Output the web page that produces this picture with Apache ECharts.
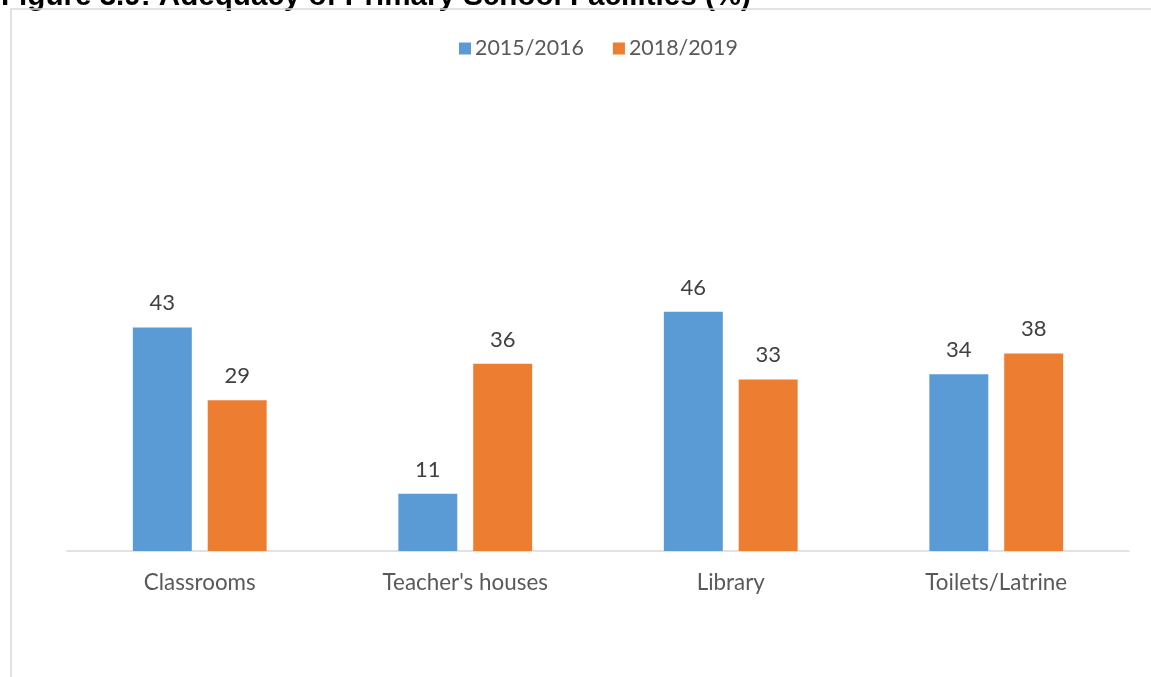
<!DOCTYPE html>
<html>
<head>
<meta charset="utf-8">
<script src="https://cdn.jsdelivr.net/npm/echarts@6/dist/echarts.min.js"></script>
<style>
  html, body { margin: 0; padding: 0; background: #ffffff; }
  #chart { width: 1151px; height: 677px; }
</style>
</head>
<body>
<div id="chart"></div>
<script>
// Adequacy of primary school facilities, percent
const categories = ['Classrooms', "Teacher's houses", 'Library', 'Toilets/Latrine'];
const seriesNames = ['2015/2016', '2018/2019'];
const values2015 = [43, 11, 46, 34];
const values2018 = [29, 36, 33, 38];
const colors = ['#5b9bd5', '#ed7d31'];

const FONT = 'Lato, "Liberation Sans", sans-serif';

const chart = echarts.init(document.getElementById('chart'), null, { renderer: 'canvas' });

const barLabel = {
  show: true,
  position: 'top',
  distance: 13,
  color: '#404040',
  fontFamily: FONT,
  fontSize: 22
};

chart.setOption({
  animation: false,
  backgroundColor: '#ffffff',
  graphic: [
    {
      type: 'text',
      x: 1,
      y: -3,
      z: 1,
      style: {
        text: 'Figure 3.9: Adequacy of Primary School Facilities (%)',
        font: 'bold 29.6px "Liberation Sans", Arial, sans-serif',
        fill: '#000000',
        verticalAlign: 'middle'
      },
      silent: true
    },
    {
      type: 'rect',
      z: 2,
      shape: { x: 11, y: 9, width: 1160, height: 690 },
      style: { fill: 'none', stroke: '#d9d9d9', lineWidth: 1.5 },
      silent: true
    }
  ],
  legend: {
    data: seriesNames,
    left: 454,
    top: 33,
    itemWidth: 12,
    itemHeight: 12,
    itemGap: 29,
    icon: 'rect',
    textStyle: { color: '#595959', fontFamily: FONT, fontSize: 21.4, padding: [0, 0, 0, -1] }
  },
  grid: { left: 67, right: 22, top: 239, bottom: 126, containLabel: false },
  xAxis: {
    type: 'category',
    data: categories,
    axisLine: { show: true, lineStyle: { color: '#d9d9d9', width: 1.5 } },
    axisTick: { show: false },
    axisLabel: { color: '#595959', fontFamily: FONT, fontSize: 22.4, margin: 21 },
    splitLine: { show: false }
  },
  yAxis: {
    type: 'value',
    min: 0,
    max: 60,
    interval: 10,
    show: false,
    splitLine: { show: false }
  },
  series: [
    {
      name: seriesNames[0],
      type: 'bar',
      data: values2015,
      barWidth: '22.2%',
      barGap: '27%',
      itemStyle: { color: colors[0] },
      label: barLabel
    },
    {
      name: seriesNames[1],
      type: 'bar',
      data: values2018,
      barWidth: '22.2%',
      barGap: '27%',
      itemStyle: { color: colors[1] },
      label: barLabel
    }
  ]
});
</script>
</body>
</html>
